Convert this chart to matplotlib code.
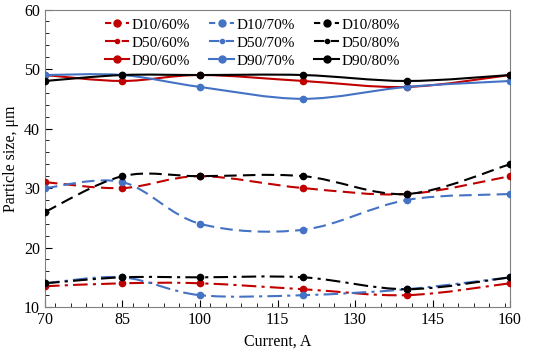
import numpy as np
import matplotlib.pyplot as plt
from matplotlib.path import Path
from matplotlib.patches import PathPatch
from matplotlib.lines import Line2D
from matplotlib.ticker import MultipleLocator

plt.rcParams['font.family'] = ['Liberation Serif']

# 数据
current = [70, 85, 100, 120, 140, 160]
humidity = ['60%', '70%', '80%']
colors = ['#C00000', '#4472C4', '#000000']

# dashed curves (legend: D10)
d10 = {'60%': [31, 30, 32, 30, 29, 32],
       '70%': [30, 31, 24, 23, 28, 29],
       '80%': [26, 32, 32, 32, 29, 34]}
# dash-dot curves (legend: D50)
d50 = {'60%': [13.5, 14, 14, 13, 12, 14],
       '70%': [14, 15, 12, 12, 13, 15],
       '80%': [14, 15, 15, 15, 13, 15]}
# solid curves (legend: D90)
d90 = {'60%': [49, 48, 49, 48, 47, 49],
       '70%': [49, 49, 47, 45, 47, 48],
       '80%': [48, 49, 49, 49, 48, 49]}


def smooth_path(xs, ys):
    # Excel 风格平滑曲线 (Catmull-Rom -> Bezier)
    pts = np.column_stack([xs, ys]).astype(float)
    n = len(pts)
    verts = [pts[0]]
    codes = [Path.MOVETO]
    for i in range(n - 1):
        p0 = pts[max(i - 1, 0)]
        p1 = pts[i]
        p2 = pts[i + 1]
        p3 = pts[min(i + 2, n - 1)]
        c1 = p1 + (p2 - p0) / 6
        c2 = p2 - (p3 - p1) / 6
        verts += [c1, c2, p2]
        codes += [Path.CURVE4] * 3
    return Path(verts, codes)


fig = plt.figure(figsize=(5.5, 3.55), dpi=100)
ax = fig.add_axes([0.0818, 0.135, 0.8455, 0.838])

styles = [(d10, (0, (6, 3)), 4.5), (d50, (0, (7, 2.5, 1.5, 2.5)), 4.5), (d90, '-', 4.5)]
for data, ls, ms in styles:
    for h, c in zip(humidity, colors):
        ax.add_patch(PathPatch(smooth_path(current, data[h]), fill=False,
                               edgecolor=c, lw=1.5, linestyle=ls, zorder=2))
        ax.plot(current, data[h], 'o', color=c, ms=ms, zorder=3)

# 图例
handles = []
labels = []
leg_styles = [('D10', (0, (3, 2)), 5), ('D50', (0, (5, 1, 1, 1)), 3), ('D90', '-', 5)]
for h, c in zip(humidity, colors):
    for name, ls, ms in leg_styles:
        handles.append(Line2D([], [], color=c, lw=1.5, ls=ls, marker='o', ms=ms))
        labels.append(name + '/' + h)
ax.legend(handles, labels, ncol=3, loc='upper left', frameon=False,
          fontsize=11, handlelength=1.6, handletextpad=0.15,
          columnspacing=1.3, labelspacing=0.28, borderpad=0.2,
          bbox_to_anchor=(0.105, 1.008))

ax.set_xlim(70, 160)
ax.set_ylim(10, 60)
ax.set_xticks([70, 85, 100, 115, 130, 145, 160])
ax.set_yticks([10, 20, 30, 40, 50, 60])
ax.xaxis.set_minor_locator(MultipleLocator(3))
ax.yaxis.set_minor_locator(MultipleLocator(2))
ax.tick_params(which='both', direction='in', top=False, right=False, labelsize=11.5)
ax.tick_params(which='major', length=5)
ax.tick_params(which='minor', length=3)
for s in ax.spines.values():
    s.set_color('#808080')
ax.set_xlabel('Current, A', fontsize=11.5)
ax.set_ylabel('Particle size, μm', fontsize=11.5)

fig.savefig('out.png', dpi=100)
